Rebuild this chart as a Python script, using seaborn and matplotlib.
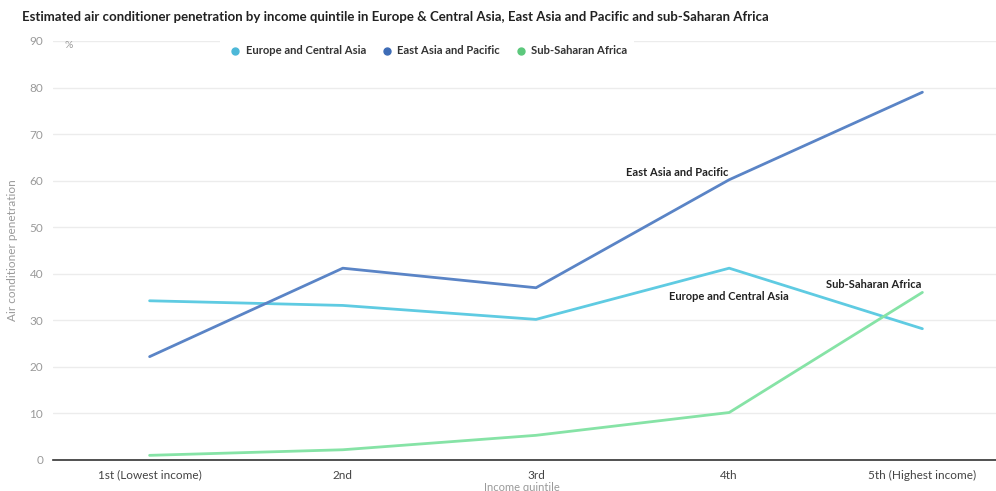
import pandas as pd
import seaborn as sns
import matplotlib.pyplot as plt
from matplotlib.lines import Line2D

quintiles = ['1st (Lowest income)', '2nd', '3rd', '4th', '5th (Highest income)']
europe = [34.2, 33.2, 30.2, 41.2, 28.2]
east_asia = [22.2, 41.2, 37.0, 60.2, 79.0]
ssa = [1.0, 2.2, 5.3, 10.2, 36.0]
regions = ['Europe and Central Asia', 'East Asia and Pacific', 'Sub-Saharan Africa']
colors = ['#5fcbe2', '#5a84c6', '#86e3a6']

# long table for seaborn
df = pd.DataFrame({
    'quintile': quintiles * 3,
    'pos': list(range(5)) * 3,
    'value': europe + east_asia + ssa,
    'region': [r for r in regions for _ in range(5)],
})

sns.set_style('white')
plt.rcParams['font.family'] = ['Lato', 'DejaVu Sans']

fig = plt.figure(figsize=(9.96, 4.91), dpi=100)
ax = fig.add_axes([53 / 996, 31 / 491, 966 / 996, 419 / 491])

sns.lineplot(data=df, x='pos', y='value', hue='region', palette=dict(zip(regions, colors)),
             linewidth=2, ax=ax, legend=False, sort=False)

ax.set_xlim(-0.5, 4.5)
ax.set_ylim(0, 90)
ax.set_yticks(range(0, 100, 10))
ax.yaxis.grid(True, color='#ececec', linewidth=1)
ax.set_axisbelow(True)
for s in ['top', 'right', 'left']:
    ax.spines[s].set_visible(False)
ax.spines['bottom'].set_color('#333333')
ax.spines['bottom'].set_linewidth(1.2)

ax.set_xticks([i - 0.5 for i in range(6)])
ax.set_xticklabels([])
ax.set_xticks(range(5), minor=True)
ax.set_xticklabels(quintiles, minor=True, fontsize=8.5, color='#444444')
ax.tick_params(axis='x', which='major', length=6, width=1.2, color='#333333', direction='out')
ax.tick_params(axis='x', which='minor', length=0, pad=7)
ax.tick_params(axis='y', length=0, labelsize=8.5, labelcolor='#9a9a9a', pad=7)

ax.set_xlabel('Income quintile', fontsize=8, color='#999999', labelpad=0)
ax.xaxis.set_label_coords(0.485, -0.052)
ax.set_ylabel('Air conditioner penetration', fontsize=8.5, color='#9a9a9a', labelpad=8)
ax.text(-0.44, 89, '%', fontsize=7.5, color='#9a9a9a', va='center')

fig.text(22 / 996, 1 - 17 / 491, 'Estimated air conditioner penetration by income quintile in Europe & Central Asia, '
         'East Asia and Pacific and sub-Saharan Africa', fontsize=9.5, fontweight='bold', color='#222222', va='center')

marker_colors = ['#4db8d8', '#3e6cb6', '#5cc87c']
handles = [Line2D([], [], marker='o', linestyle='none', markersize=5, color=c) for c in marker_colors]
leg = ax.legend(handles, regions, ncol=3, loc='center left', bbox_to_anchor=(214 / 996, 1 - 51 / 491),
                bbox_transform=fig.transFigure, frameon=True, fontsize=8.1, handletextpad=0.2,
                columnspacing=1.1, borderpad=0.6, handlelength=1.5)
leg.get_frame().set_edgecolor('none')
leg.get_frame().set_facecolor('white')
leg.get_frame().set_alpha(1)
for t in leg.get_texts():
    t.set_fontweight('bold')
    t.set_color('#333333')

ax.text(2.73, 61.8, 'East Asia and Pacific', fontsize=8, fontweight='bold', color='#222222', ha='center', va='center')
ax.text(3.0, 35.2, 'Europe and Central Asia', fontsize=8, fontweight='bold', color='#222222', ha='center', va='center')
ax.text(3.75, 37.8, 'Sub-Saharan Africa', fontsize=8, fontweight='bold', color='#222222', ha='center', va='center')

fig.savefig('out.png', dpi=100)
